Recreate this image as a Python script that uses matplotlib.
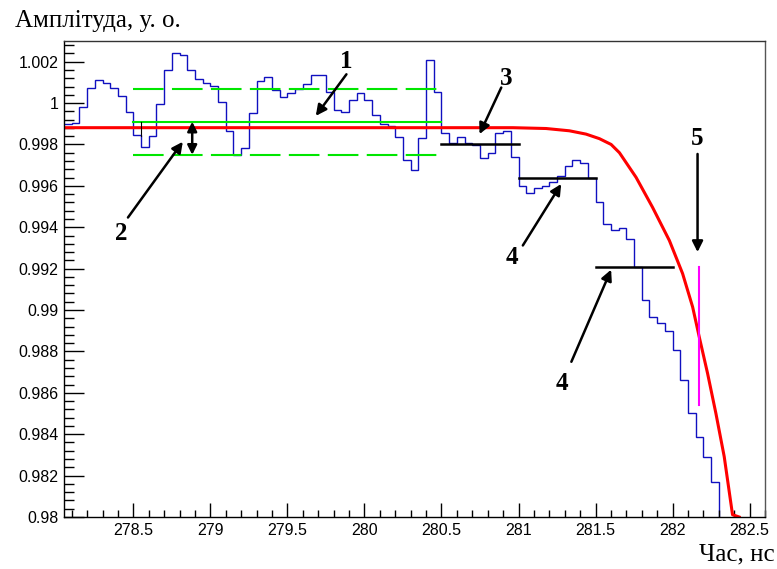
import numpy as np
import matplotlib
matplotlib.use('Agg')
import matplotlib.pyplot as plt
from matplotlib.ticker import MultipleLocator, FuncFormatter

# histogram: bins of 0.05 ns starting at 278.05
t_start = 278.05
bin_w = 0.05
amp = [0.99900, 0.99905, 0.99982, 1.00072, 1.00110, 1.00096, 1.00072, 1.00033,
       0.99958, 0.99845, 0.99789, 0.99842, 0.99995, 1.00159, 1.00243, 1.00232,
       1.00159, 1.00115, 1.00096, 1.00083, 1.00007, 0.99866, 0.99750, 0.99783,
       0.99951, 1.00107, 1.00128, 1.00064, 1.00031, 1.00048, 1.00070, 1.00094,
       1.00136, 1.00136, 1.00055, 0.99967, 0.99958, 1.00014, 1.00049, 1.00014,
       0.99942, 0.99898, 0.99889, 0.99834, 0.99725, 0.99677, 0.99829, 1.00207,
       1.00055, 0.99853, 0.99808, 0.99834, 0.99808, 0.99797, 0.99734, 0.99757,
       0.99856, 0.99866, 0.99737, 0.99601, 0.99566, 0.99588, 0.99601, 0.99620,
       0.99649, 0.99697, 0.99726, 0.99712, 0.99640, 0.99520, 0.99414, 0.99386,
       0.99394, 0.99341, 0.99207, 0.99047, 0.98966, 0.98937, 0.98899, 0.98806,
       0.98661, 0.98504, 0.98388, 0.98292, 0.98171, 0.97900]

# fitted curve
fit_t = [278.05, 279.0, 280.0, 280.5, 280.963, 281.179, 281.33, 281.438, 281.525,
         281.601, 281.655, 281.763, 281.870, 281.979, 282.065, 282.130, 282.173,
         282.227, 282.281, 282.335, 282.389, 282.432]
fit_v = [0.99881, 0.99881, 0.99881, 0.99881, 0.99881, 0.99877, 0.99866, 0.99850,
         0.99828, 0.99800, 0.99760, 0.99641, 0.99496, 0.99336, 0.99176, 0.99015,
         0.98870, 0.98694, 0.98501, 0.98292, 0.98011, 0.98000]

# mean level and +- band
mean_t = [278.5, 280.5]
mean_v = 0.9991
band = 0.0016

# plateau levels (3, 4, 4)
lev_t0 = [280.5, 281.0, 281.5]
lev_t1 = [281.0, 281.5, 282.0]
lev_v = [0.9980, 0.9964, 0.9921]

# marker 5
mark_t = 282.17
mark_v = [0.98540, 0.99207]

# annotation arrows: label, label pos, tail, tip
labels = ['1', '2', '3', '4', '4', '5']
lab_pos = [(279.885, 1.00203), (278.42, 0.99370), (280.92, 1.00117),
           (280.96, 0.99254), (281.285, 0.98647), (282.16, 0.99827)]
tails = [(279.883, 1.00139), (278.465, 0.99447), (280.888, 1.00075),
         (281.028, 0.99312), (281.343, 0.98750), (282.162, 0.99754)]
tips = [(279.684, 0.99938), (278.821, 0.99813), (280.747, 0.99850),
        (281.277, 0.99609), (281.601, 0.99195), (282.162, 0.99280)]

serif = 'Liberation Serif'

fig = plt.figure(figsize=(7.77, 5.69), dpi=100)
ax = fig.add_axes([0.0824, 0.0914, 0.9022, 0.8366])

edges = t_start + bin_w * np.arange(len(amp) + 1)
ax.stairs(amp, edges, color='#1010c0', linewidth=1.0, baseline=None)

ax.plot(fit_t, fit_v, color='red', linewidth=2.2, solid_joinstyle='round')

ax.plot(mean_t, [mean_v, mean_v], color='#00e600', linewidth=1.5)
for s in (1, -1):
    ax.plot(mean_t, [mean_v + s * band] * 2, color='#00e600', linewidth=1.5,
            linestyle=(0, (14.7, 4.0)))

# small tick at the start of the band
ax.plot([278.55, 278.55], [0.99909, 0.99842], color='k', linewidth=0.8)

for a, b, v in zip(lev_t0, lev_t1, lev_v):
    ax.plot([a, b], [v, v], color='k', linewidth=1.8)

ax.plot([mark_t, mark_t], mark_v, color='#ff00ff', linewidth=1.5)

ax.annotate('', xy=(278.882, mean_v - band), xytext=(278.882, mean_v),
            arrowprops=dict(arrowstyle='<|-|>', color='k', lw=1.8,
                            mutation_scale=14, shrinkA=0, shrinkB=0))

for lab, p, tl, tp in zip(labels, lab_pos, tails, tips):
    ax.annotate('', xy=tp, xytext=tl,
                arrowprops=dict(arrowstyle='-|>', color='k', lw=1.8,
                                mutation_scale=16, shrinkA=0, shrinkB=0))
    ax.text(p[0], p[1], lab, fontsize=18, fontweight='bold', family=serif,
            ha='center', va='center')

ax.set_xlim(278.05, 282.6)
ax.set_ylim(0.98, 1.003)

ax.xaxis.set_major_locator(MultipleLocator(0.5))
ax.xaxis.set_minor_locator(MultipleLocator(0.1))
ax.yaxis.set_major_locator(MultipleLocator(0.002))
ax.yaxis.set_minor_locator(MultipleLocator(0.0004))
fmt = FuncFormatter(lambda v, p: '%g' % round(v, 6))
ax.xaxis.set_major_formatter(fmt)
ax.yaxis.set_major_formatter(fmt)

ax.tick_params(axis='both', which='both', direction='in', top=False, right=False,
               width=1, labelsize=11.5)
ax.tick_params(axis='y', which='major', length=14.4, pad=4)
ax.tick_params(axis='y', which='minor', length=7.2)
ax.tick_params(axis='x', which='major', length=10, pad=4)
ax.tick_params(axis='x', which='minor', length=5)
for lbl in ax.get_xticklabels() + ax.get_yticklabels():
    lbl.set_family('Liberation Sans')

for sp in ax.spines.values():
    sp.set_linewidth(1)
    sp.set_color('k')
ax.spines['right'].set_color('#555555')
ax.spines['top'].set_color('#333333')

fig.text(15 / 777, 1 - 27 / 569, 'Амплітуда, у. о.', fontsize=18, family=serif,
         ha='left', va='baseline')
fig.text(775 / 777, 1 - 560 / 569, 'Час, нс', fontsize=18, family=serif,
         ha='right', va='baseline')

fig.savefig('out.png', dpi=100)
